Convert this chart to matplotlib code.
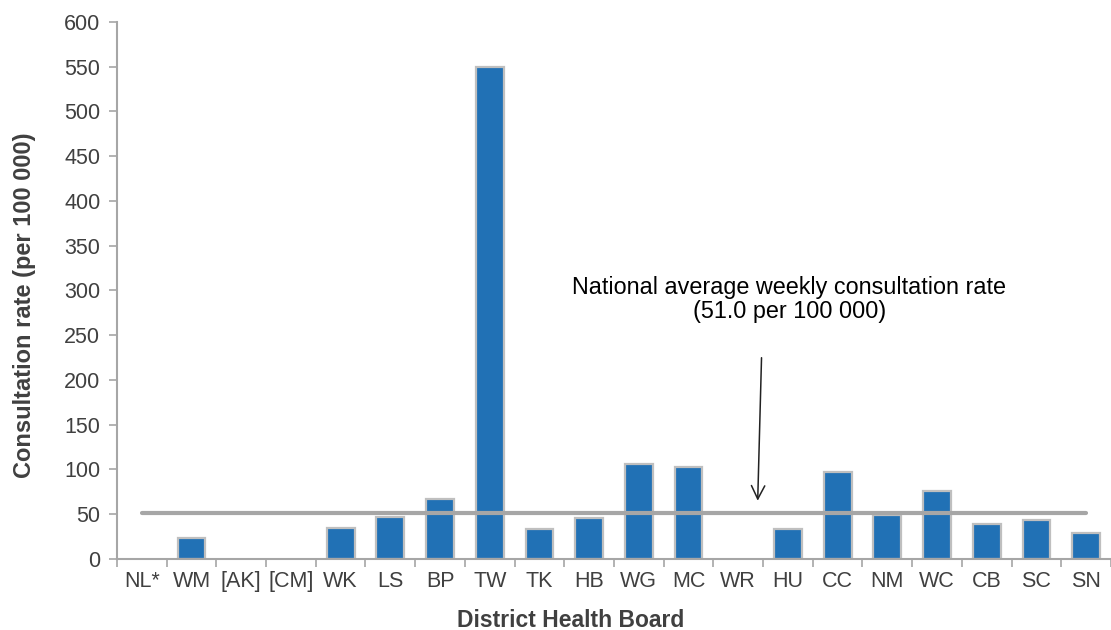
import matplotlib.pyplot as plt
import numpy as np

plt.rcParams['font.family'] = ['Liberation Sans', 'DejaVu Sans']

boards = ['NL*', 'WM', '[AK]', '[CM]', 'WK', 'LS', 'BP', 'TW', 'TK', 'HB',
          'WG', 'MC', 'WR', 'HU', 'CC', 'NM', 'WC', 'CB', 'SC', 'SN']
rates = [0, 24, 0, 0, 35, 47, 67, 550, 34, 46,
         106, 103, 0, 34, 97, 49, 76, 39, 44, 29]
national_avg = 51.0
y_ticks = list(range(0, 601, 50))

grey = '#A6A6A6'
txt = '#404040'

fig = plt.figure(figsize=(11.11, 6.30), dpi=100)
ax = fig.add_axes([0.1053, 0.1127, 0.8947, 0.8524])

x = np.arange(len(boards))
vals = np.array(rates, dtype=float)
shown = vals > 0  # boards with no data get no bar
ax.bar(x[shown], vals[shown], width=0.56, color='#2171B5', edgecolor='#BFBFBF',
       linewidth=1.6, zorder=2)
ax.plot([x[0], x[-1]], [national_avg, national_avg], color=grey, linewidth=3, zorder=3,
        solid_capstyle='round')

ax.set_xlim(-0.5, len(boards) - 0.5)
ax.set_ylim(0, 600)
ax.set_yticks(y_ticks)
ax.tick_params(axis='y', colors=grey, labelcolor=txt, labelsize=15.5, length=6, width=1.2, pad=6)

# ticks between categories, labels at centres
ax.set_xticks(np.arange(-0.5, len(boards), 1.0))
ax.set_xticklabels([])
ax.tick_params(axis='x', which='major', colors=grey, length=6, width=1.2)
ax.set_xticks(x, minor=True)
ax.set_xticklabels(boards, minor=True)
ax.tick_params(axis='x', which='minor', length=0, labelcolor=txt, labelsize=15.5, pad=9)

for s in ['top', 'right']:
    ax.spines[s].set_visible(False)
for s in ['left', 'bottom']:
    ax.spines[s].set_color(grey)
    ax.spines[s].set_linewidth(1.5)

ax.set_ylabel('Consultation rate (per 100 000)', fontsize=17, fontweight='bold', color=txt)
ax.yaxis.set_label_coords(-0.081, 0.473)
ax.set_xlabel('District Health Board', fontsize=16.5, fontweight='bold', color=txt)
ax.xaxis.set_label_coords(0.4567, -0.093)

ax.text(13.03, 290, 'National average weekly consultation rate\n(51.0 per 100 000)',
        ha='center', va='center', fontsize=16.8, color='black', linespacing=1.05)
ax.annotate('', xy=(12.39, 62), xytext=(12.47, 228),
            arrowprops=dict(arrowstyle='->', color='#222222', lw=1.1, mutation_scale=24))

fig.savefig('out.png', dpi=100)
